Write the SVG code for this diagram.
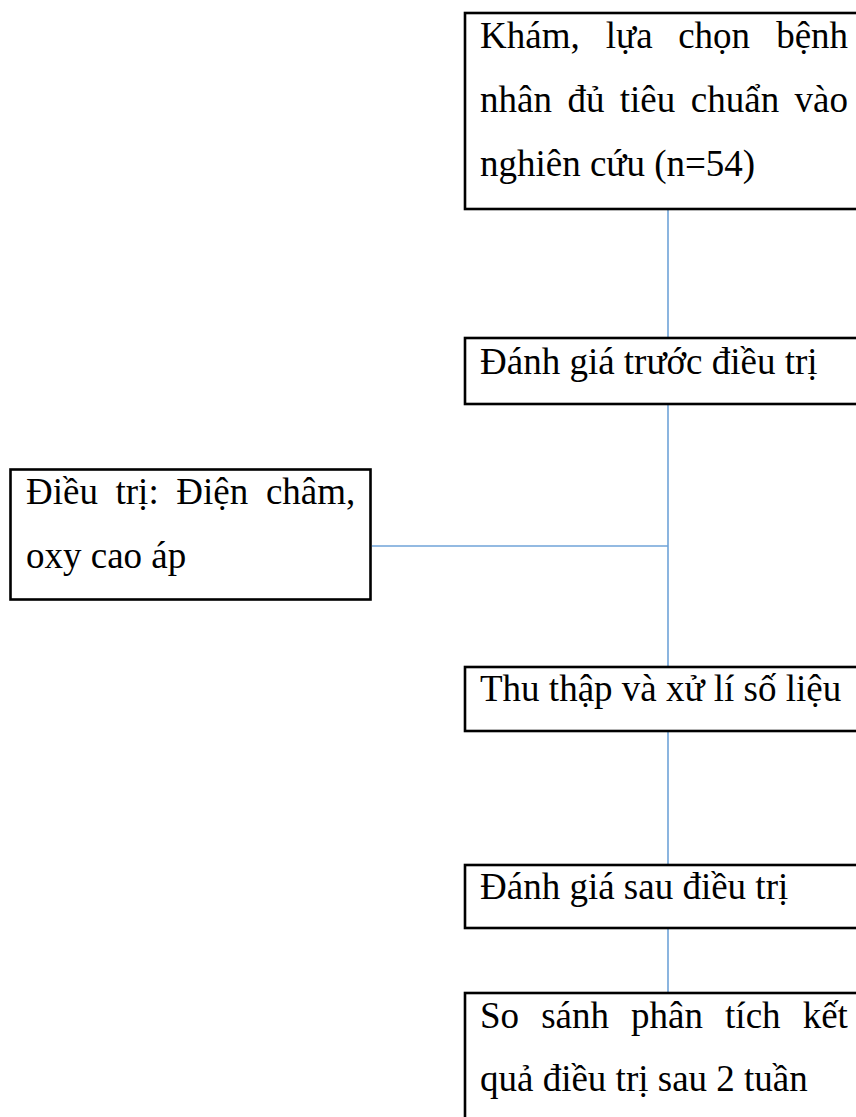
<svg xmlns="http://www.w3.org/2000/svg" width="856" height="1117" viewBox="0 0 856 1117">
  <style>
    .box { fill: #ffffff; stroke: #000000; stroke-width: 2.6; }
    .lbl { font-family: "Liberation Serif", "Times New Roman", serif; font-size: 37px; fill: #000000; }
    .conn { stroke: #6FA3D8; stroke-width: 1.6; fill: none; }
  </style>
  <rect width="856" height="1117" fill="#ffffff"/>

  <g id="connectors">
    <line class="conn" x1="668" y1="209" x2="668" y2="338"/>
    <line class="conn" x1="668" y1="404" x2="668" y2="667"/>
    <line class="conn" x1="372" y1="546" x2="668" y2="546"/>
    <line class="conn" x1="668" y1="731" x2="668" y2="865"/>
    <line class="conn" x1="668" y1="928" x2="668" y2="993"/>
  </g>

  <g id="node-kham">
    <rect class="box" x="465" y="13" width="420" height="196"/>
    <text class="lbl" y="48"><tspan x="480">Khám,</tspan><tspan x="605.8">lựa</tspan><tspan x="678.2">chọn</tspan><tspan x="776.2">bệnh</tspan></text>
    <text class="lbl" y="112"><tspan x="480">nhân</tspan><tspan x="567.4">đủ</tspan><tspan x="619.8">tiêu</tspan><tspan x="690.8">chuẩn</tspan><tspan x="794.6">vào</tspan></text>
    <text class="lbl" x="480" y="176">nghiên cứu (n=54)</text>
  </g>

  <g id="node-danhgia-truoc">
    <rect class="box" x="465" y="338" width="420" height="66"/>
    <text class="lbl" x="480" y="374">Đánh giá trước điều trị</text>
  </g>

  <g id="node-dieutri">
    <rect class="box" x="10.5" y="469.5" width="360" height="130"/>
    <text class="lbl" y="504"><tspan x="26">Điều</tspan><tspan x="115.5">trị:</tspan><tspan x="176.3">Điện</tspan><tspan x="265.9">châm,</tspan></text>
    <text class="lbl" x="26" y="568">oxy cao áp</text>
  </g>

  <g id="node-thuthap">
    <rect class="box" x="465" y="667" width="420" height="64"/>
    <text class="lbl" x="480" y="701">Thu thập và xử lí số liệu</text>
  </g>

  <g id="node-danhgia-sau">
    <rect class="box" x="465" y="865" width="420" height="63"/>
    <text class="lbl" x="480" y="899">Đánh giá sau điều trị</text>
  </g>

  <g id="node-sosanh">
    <rect class="box" x="465" y="993" width="420" height="160"/>
    <text class="lbl" y="1028"><tspan x="480">So</tspan><tspan x="541.2">sánh</tspan><tspan x="631.1">phân</tspan><tspan x="725.1">tích</tspan><tspan x="802.7">kết</tspan></text>
    <text class="lbl" x="480" y="1091">quả điều trị sau 2 tuần</text>
  </g>
</svg>
